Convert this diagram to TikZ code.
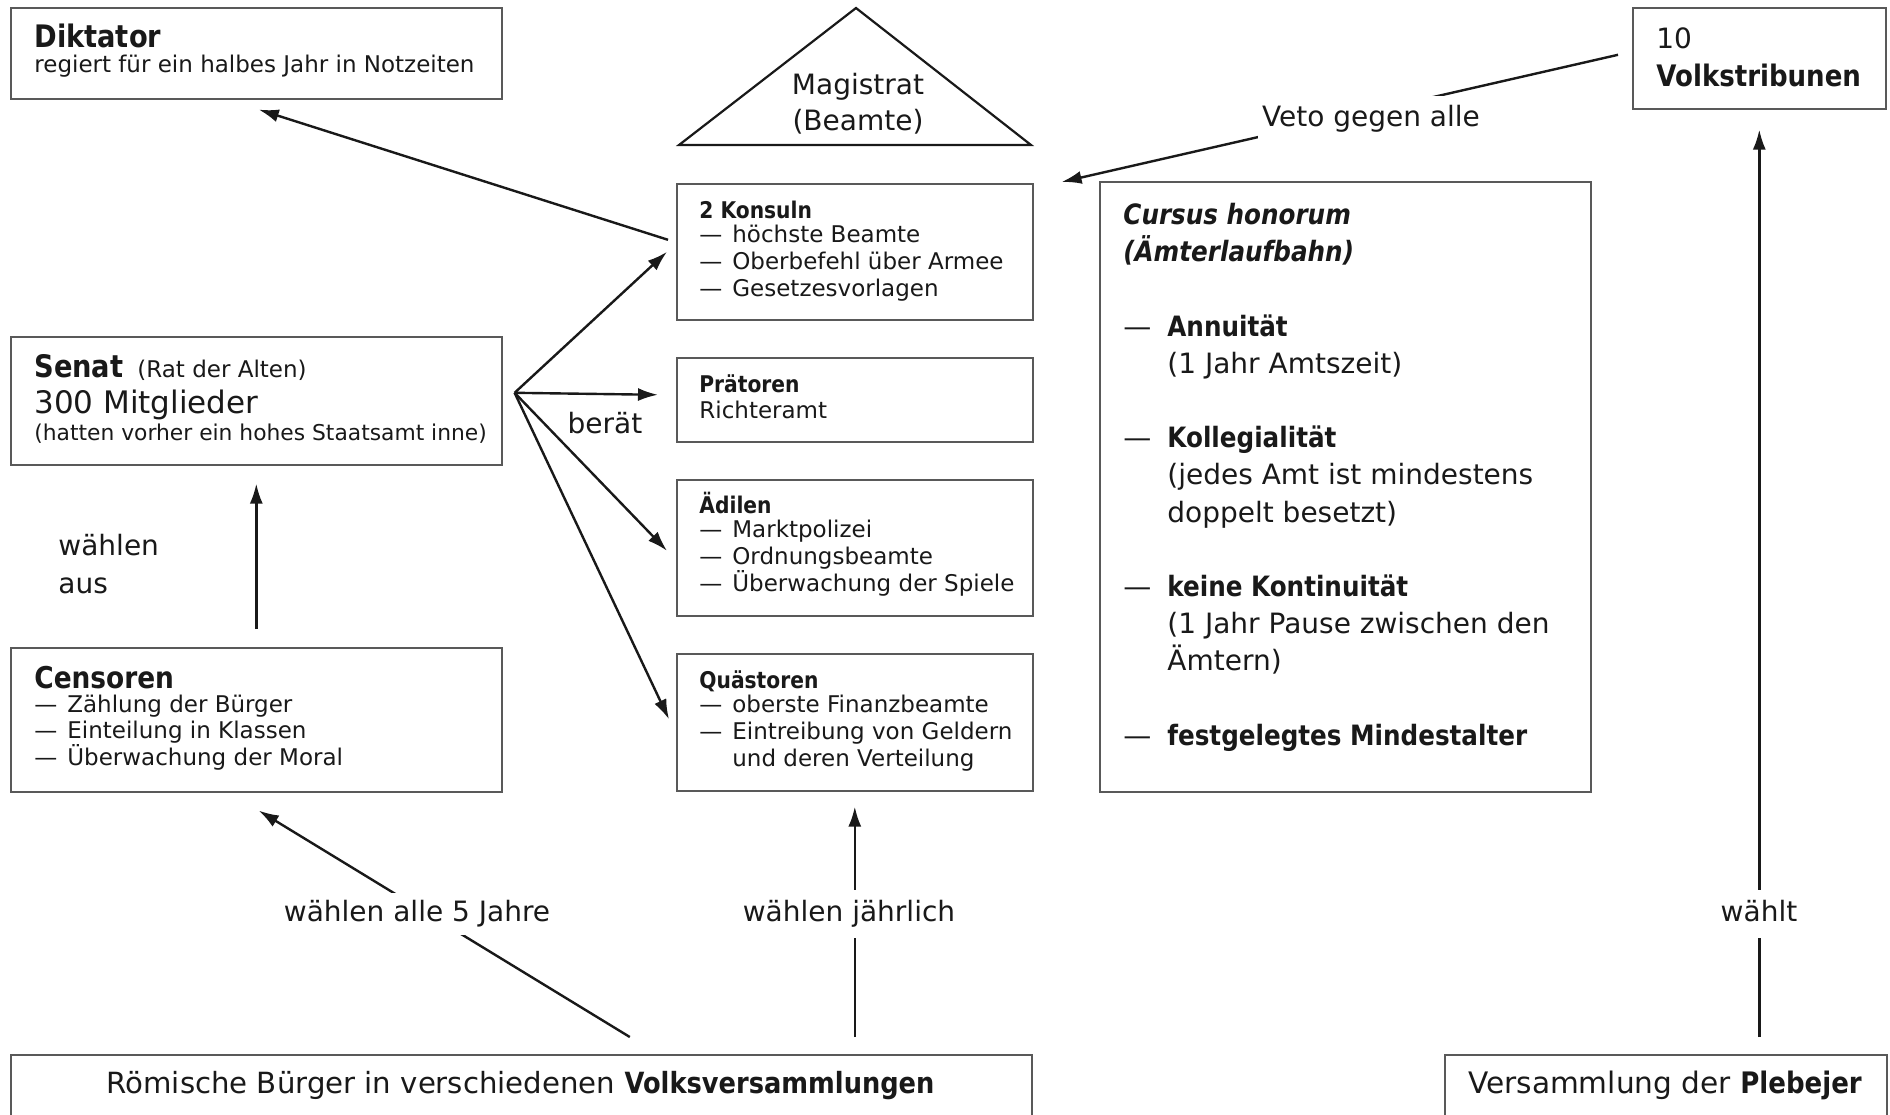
\documentclass[tikz,border=0pt]{standalone}
\usepackage{fontspec}
\setmainfont{DejaVu Sans}
\newfontfamily\bfont[FakeStretch=0.88]{DejaVu Sans}
\usetikzlibrary{arrows.meta,calc}
\newcommand{\fs}[2]{\fontsize{#1}{#2}\selectfont\lineskiplimit=-20pt\relax}
\newcommand{\mybf}[1]{{\bfont\bfseries #1}}
\newcommand{\mybi}[1]{{\bfont\bfseries\itshape #1}}
\newcommand{\dsh}{\makebox[16.5pt][l]{—}}
\newcommand{\sind}{\makebox[16.5pt][l]{}}
\newcommand{\cdsh}{\makebox[22pt][l]{—}}
\newcommand{\cind}{\makebox[22pt][l]{}}
\begin{document}
\begin{tikzpicture}[x=0.5pt,y=-0.5pt,
  box/.style={draw=black!65, line width=0.8pt, rectangle, inner sep=0pt, anchor=north west},
  txt/.style={inner sep=0pt, anchor=north west, align=left, text=black!90},
  arr/.style={-{Latex[length=10pt,width=6.5pt]}, line width=1.2pt, draw=black!90},
  lbl/.style={fill=white, inner xsep=2pt, text height=10.5pt, text depth=3.5pt, font=\fs{14}{16}, text=black!90},
]
\fill[white] (0,0) rectangle (1890,1114);
\useasboundingbox (0,0) rectangle (1890,1114);

% boxes
\node[box, minimum width=245.5pt, minimum height=45.5pt] (dikt) at (10,7) {};
\node[box, minimum width=245.5pt, minimum height=64pt] (senat) at (10,336) {};
\node[box, minimum width=245.5pt, minimum height=72pt] (cens) at (10,647) {};
\node[box, minimum width=178pt, minimum height=68pt] (kons) at (676,183) {};
\node[box, minimum width=178pt, minimum height=42pt] (prae) at (676,357) {};
\node[box, minimum width=178pt, minimum height=68pt] (aed) at (676,479) {};
\node[box, minimum width=178pt, minimum height=68.5pt] (quae) at (676,653) {};
\node[box, minimum width=245.5pt, minimum height=305pt] (curs) at (1099,181) {};
\node[box, minimum width=126.5pt, minimum height=50.5pt] (trib) at (1632,7) {};
\node[box, minimum width=510.5pt, minimum height=40pt] (volks) at (10,1054) {};
\node[box, minimum width=221pt, minimum height=40pt] (pleb) at (1444,1054) {};

% triangle
\coordinate (tA) at (856,8);
\coordinate (tB) at (1031,145);
\coordinate (tC) at (679,145);
\draw[line width=1.1pt, draw=black!90, line join=miter] (tA) -- (tB) -- (tC) -- cycle;
\node[inner sep=0pt, anchor=north, align=center, font=\fs{14}{18}, text=black!90] (magT) at (858,66) {\rule{0pt}{14pt}Magistrat\\(Beamte)};

% texts
\node[txt, font=\fs{11.5}{12.5}] (diktT) at (34,21) {\rule{0pt}{13pt}{\fs{15.5}{12.5}\mybf{Diktator}}\\regiert für ein halbes Jahr in Notzeiten};
\node[txt, font=\fs{11.5}{13.5}] (senatT) at (34,351) {\rule{0pt}{13pt}{\fs{15.5}{13.5}\mybf{Senat}}\hspace{7pt}(Rat der Alten)\\[4.5pt]{\fs{15.5}{13.5}300 Mitglieder}\\{\fs{10.9}{13.5}(hatten vorher ein hohes Staatsamt inne)}};
\node[txt, font=\fs{11.5}{13.2}] (censT) at (34,662) {\rule{0pt}{13pt}{\fs{15}{13.2}\mybf{Censoren}}\\[-1.2pt]\dsh Zählung der Bürger\\\dsh Einteilung in Klassen\\\dsh Überwachung der Moral};
\node[txt, font=\fs{11.5}{13.4}] (konsT) at (699,198) {\rule{0pt}{10pt}\mybf{2 Konsuln}\\[-1.4pt]\dsh höchste Beamte\\\dsh Oberbefehl über Armee\\\dsh Gesetzesvorlagen};
\node[txt, font=\fs{11.5}{13.4}] (praeT) at (699,372) {\rule{0pt}{10pt}\mybf{Prätoren}\\[-0.4pt]Richteramt};
\node[txt, font=\fs{11.5}{13.4}] (aedT) at (699,492) {\rule{0pt}{10pt}\mybf{Ädilen}\\[-1.4pt]\dsh Marktpolizei\\\dsh Ordnungsbeamte\\\dsh Überwachung der Spiele};
\node[txt, font=\fs{11.5}{13.4}] (quaeT) at (699,668) {\rule{0pt}{10pt}\mybf{Quästoren}\\[-1.4pt]\dsh oberste Finanzbeamte\\\dsh Eintreibung von Geldern\\\sind und deren Verteilung};
\node[txt, font=\fs{14}{18.6}] (cursT) at (1123,196) {\rule{0pt}{14pt}\mybi{Cursus honorum}\\\mybi{(Ämterlaufbahn)}\\[18.6pt]\cdsh\mybf{Annuität}\\\cind(1 Jahr Amtszeit)\\[18.6pt]\cdsh\mybf{Kollegialität}\\\cind(jedes Amt ist mindestens\\\cind doppelt besetzt)\\[18.6pt]\cdsh\mybf{keine Kontinuität}\\\cind(1 Jahr Pause zwischen den\\\cind Ämtern)\\[18.6pt]\cdsh\mybf{festgelegtes Mindestalter}};
\node[txt, font=\fs{14}{19}] (tribT) at (1656,20) {\rule{0pt}{14pt}10\\{\fs{14.8}{19}\mybf{Volkstribunen}}};
\node[inner sep=0pt, anchor=base, font=\fs{14.6}{16}, text=black!90] (volksT) at (520.5,1093) {Römische Bürger in verschiedenen \mybf{Volksversammlungen}};
\node[inner sep=0pt, anchor=base, font=\fs{14.8}{16}, text=black!90] (plebT) at (1665,1093) {Versammlung der \mybf{Plebejer}};

% free labels
\node[inner sep=0pt, font=\fs{14}{16}, text=black!90] (berat) at (605,423) {berät};
\node[txt, font=\fs{14}{19}] (wahlaus) at (58,527) {\rule{0pt}{14pt}wählen\\aus};

% arrows
\coordinate (hub) at ($(senat.east)+(12,-8)$);
\draw[arr] (hub) -- ($(kons.west)+(-9,0)$);
\draw[arr] (hub) -- ($(prae.west)+(-18,-5)$);
\draw[arr] (hub) -- ($(aed.west)+(-9,3)$);
\draw[arr] (hub) -- ($(quae.west)+(-7,-3)$);
\draw[arr] ($(kons.west)+(-8,-12)$) -- ($(dikt.south)+(2.5,10)$);
\draw[arr] ($(cens.north)+(0,-18)$) -- ($(senat.south)+(0,18)$);
\draw[arr] ($(volks.north)+(108.5,-17)$) -- ($(cens.south)+(2.5,18)$);
\draw[arr] ($(volks.north -| quae.south)+(0,-17)$) -- ($(quae.south)+(0,15)$);
\draw[arr] ($(pleb.north -| trib.south)+(0,-17)$) -- ($(trib.south)+(0,20)$);
\draw[arr] ($(trib.west)+(-14,-3.5)$) -- ($(kons.north east)+(28,-1)$);

% arrow labels
\node[lbl, inner ysep=3.5pt] (l5) at (417,914) {wählen alle 5 Jahre};
\node[lbl, inner ysep=5.2pt] (lj) at (849,914) {wählen jährlich};
\node[lbl, inner ysep=5.2pt] (lw) at (1759,914) {wählt};
\node[lbl, inner ysep=4.5pt] (lv) at (1371,119) {Veto gegen alle};
\end{tikzpicture}
\end{document}
